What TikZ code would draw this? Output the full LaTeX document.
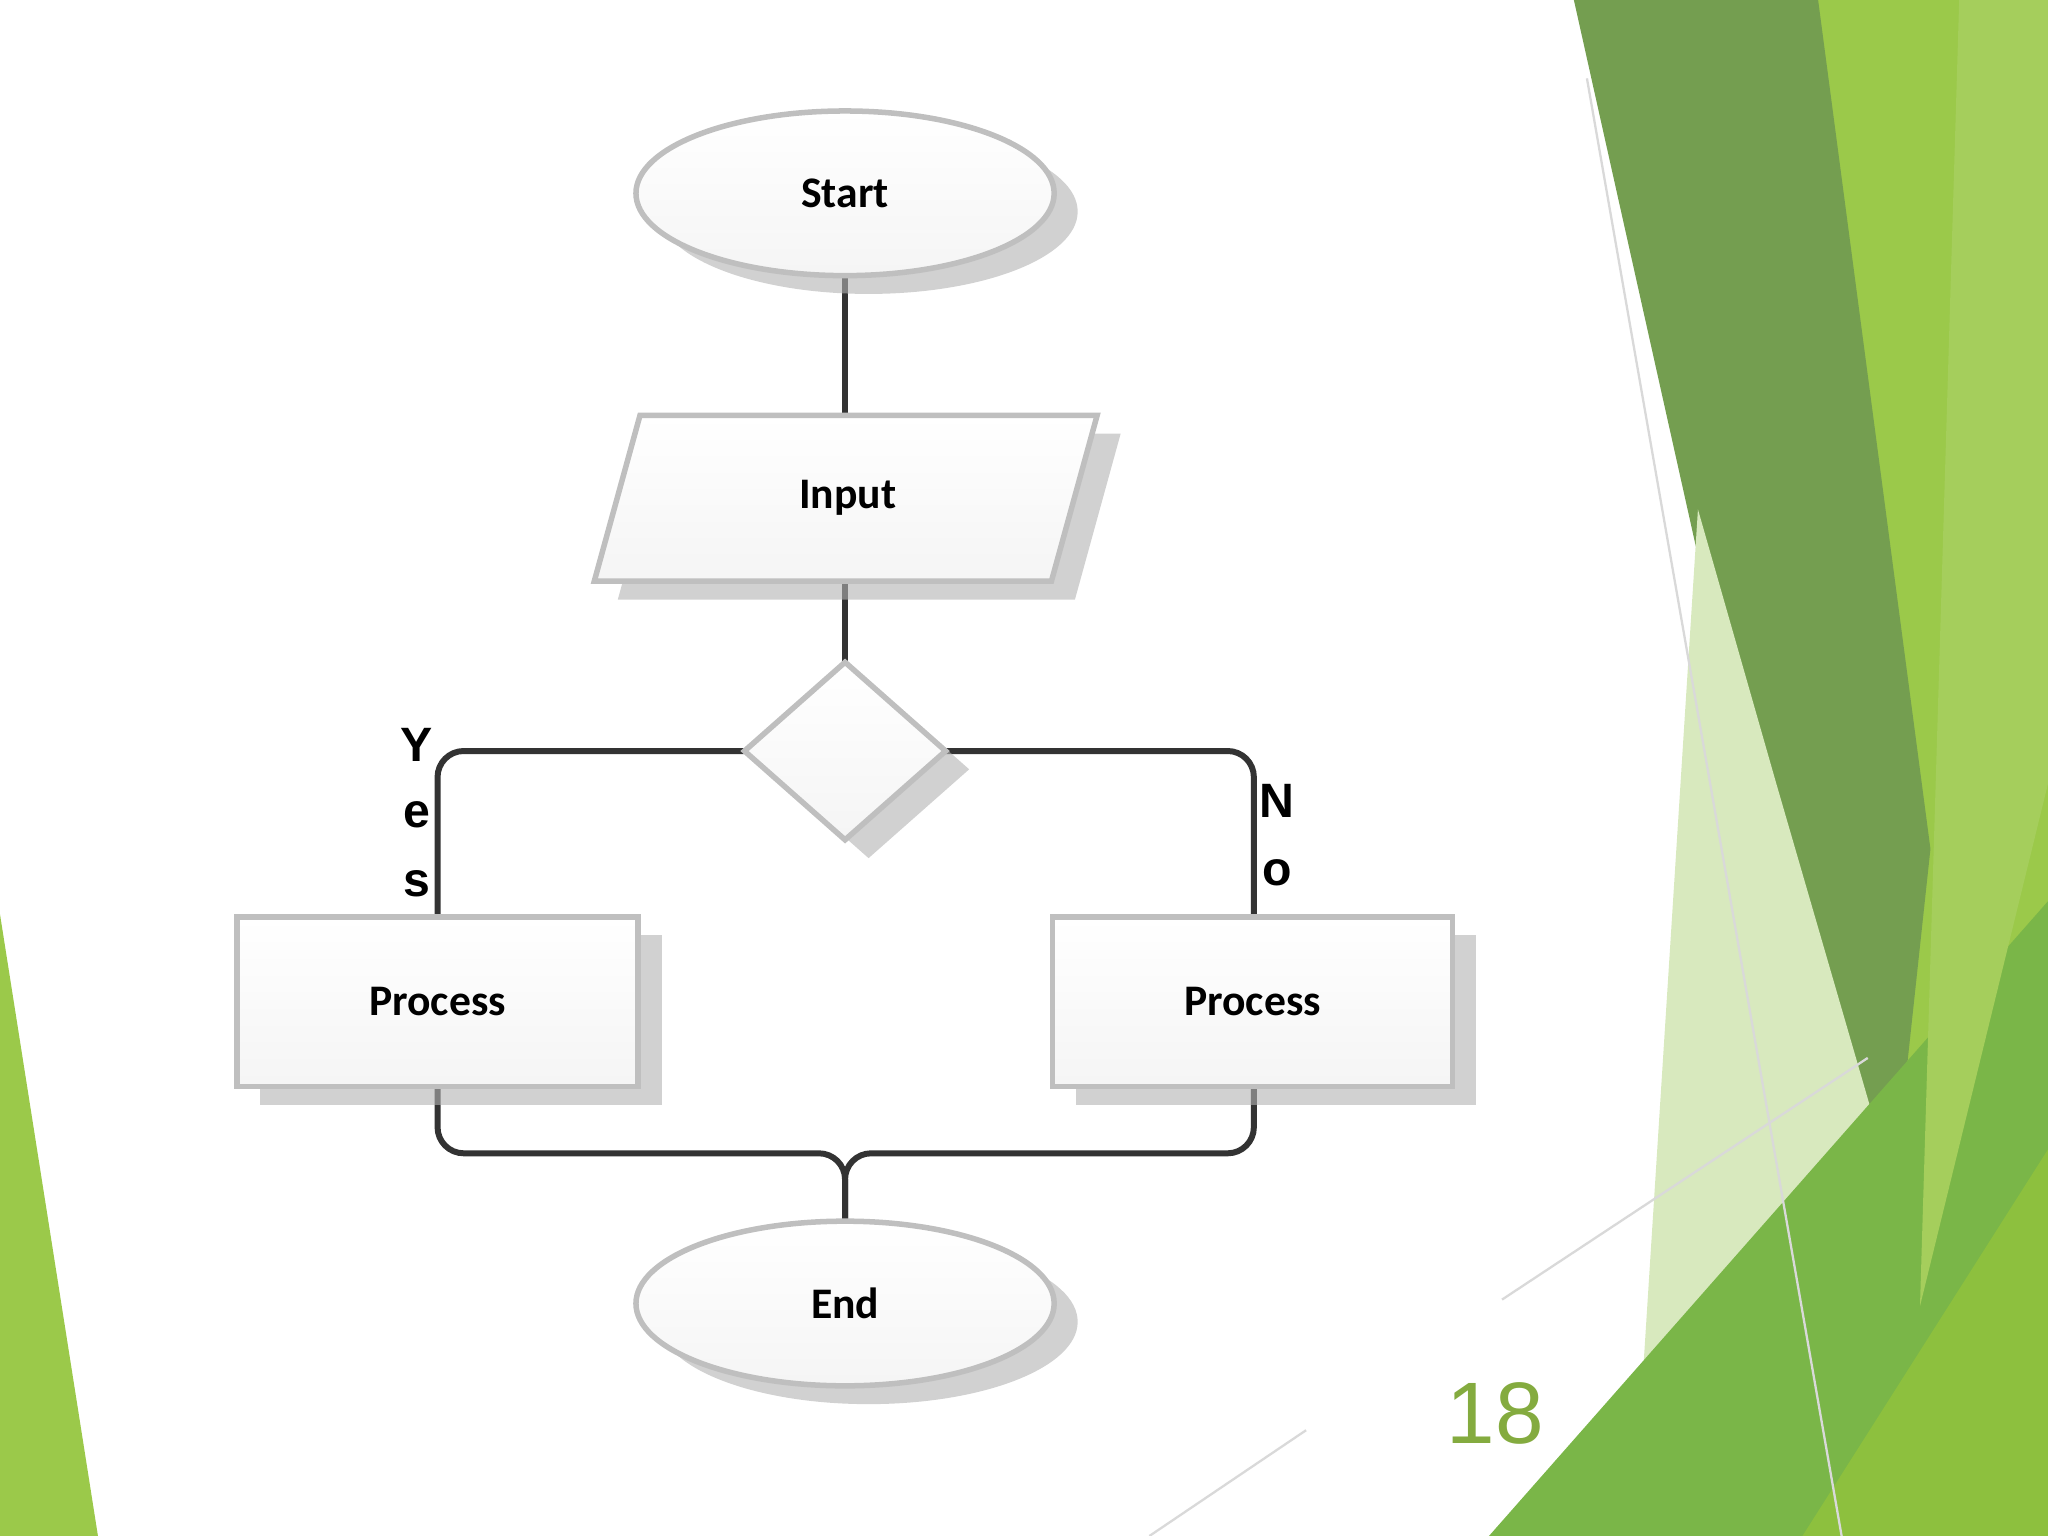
\documentclass[tikz,border=0pt]{standalone}
\usepackage{fontspec}
\setmainfont{Carlito}
\newfontfamily\arl{Liberation Sans}
\usetikzlibrary{shapes.geometric,shadows}
\definecolor{gA}{HTML}{9BC94A}
\definecolor{gB}{HTML}{749E50}
\definecolor{gC}{HTML}{D8E9BE}
\definecolor{gD}{HTML}{7AB648}
\definecolor{gE}{HTML}{8DC03E}
\tikzset{
 shp/.style={draw=black!25, line width=1.2pt, top color=white, bottom color=black!4,
   drop shadow={shadow xshift=0.18cm, shadow yshift=-0.14cm, fill=black!30, opacity=0.6}},
 lbl/.style={font=\fontsize{9.5}{11}\selectfont\bfseries},
 conn/.style={draw=black!80, line width=1.3pt, rounded corners=0.2cm},
 yn/.style={font=\arl\fontsize{10.5}{12}\selectfont\bfseries}
}
\begin{document}
\begin{tikzpicture}[x=0.01cm,y=-0.01cm]
\useasboundingbox (0,0) rectangle (1568,1176);
% background decoration
\fill[gA] (1385,0) -- (1568,0) -- (1568,1176) -- (1420,1176) -- cycle;
\fill[gB] (1205,0) -- (1392,0) -- (1478,650) -- (1450,910) -- (1330,560) -- cycle;
\fill[gC] (1300,390) -- (1360,600) -- (1450,910) -- (1380,1176) -- (1250,1176) -- cycle;
\fill[gD] (1140,1176) -- (1568,690) -- (1568,1176) -- cycle;
\fill[gE] (1380,1176) -- (1568,880) -- (1568,1176) -- cycle;
\fill[gA!90] (1500,0) -- (1568,0) -- (1568,600) -- (1470,1000) -- cycle;
\draw[white!85!black, line width=0.5pt] (1215,60) -- (1410,1176);
\draw[white!85!black, line width=0.5pt] (1150,995) -- (1430,810);
\draw[white!85!black, line width=0.5pt] (880,1176) -- (1000,1095);
\fill[gA] (0,700) -- (0,1176) -- (75,1176) -- cycle;
% connectors
\coordinate (sb) at (647,211);
\coordinate (it) at (647,318);
\coordinate (ib) at (647,445);
\coordinate (dt) at (647,507);
\coordinate (dl) at (570,575);
\coordinate (dr) at (724,575);
\coordinate (lt) at (335,702);
\coordinate (rt) at (960,702);
\coordinate (lb) at (335,832);
\coordinate (rb) at (960,832);
\coordinate (et) at (647,935);
\draw[conn] (sb) -- (it);
\draw[conn] (ib) -- (dt);
\draw[conn] (dl) -- (335,575) -- (lt);
\draw[conn] (dr) -- (960,575) -- (rt);
\draw[conn] (lb) -- (335,883) -- (647,883) -- (et);
\draw[conn] (rb) -- (960,883) -- (647,883) -- (et);
% shapes
\node[shp, ellipse, minimum width=3.2cm, minimum height=1.26cm, lbl] (start) at (647,148) {Start};
\filldraw[shp] (490,318) -- (840,318) -- (805,445) -- (455,445) -- cycle;
\node[lbl] (input) at (649,381) {Input};
\filldraw[shp] (647,507) -- (724,575) -- (647,643) -- (570,575) -- cycle;
\node[shp, minimum width=3.07cm, minimum height=1.3cm, lbl] (p1) at (335,767) {Process};
\node[shp, minimum width=3.06cm, minimum height=1.3cm, lbl] (p2) at (959,767) {Process};
\node[shp, ellipse, minimum width=3.2cm, minimum height=1.26cm, lbl] (end) at (647,998) {End};
% labels
\node[yn] (y1) at (319,570) {Y};
\node[yn] (y2) at (319,624) {e};
\node[yn] (y3) at (319,677) {s};
\node[yn] (n1) at (978,613) {N};
\node[yn] (n2) at (978,668) {o};
\node[font=\arl\fontsize{19}{22}\selectfont, text=gA!85!black] (num) at (1145,1082) {18};
\end{tikzpicture}
\end{document}
